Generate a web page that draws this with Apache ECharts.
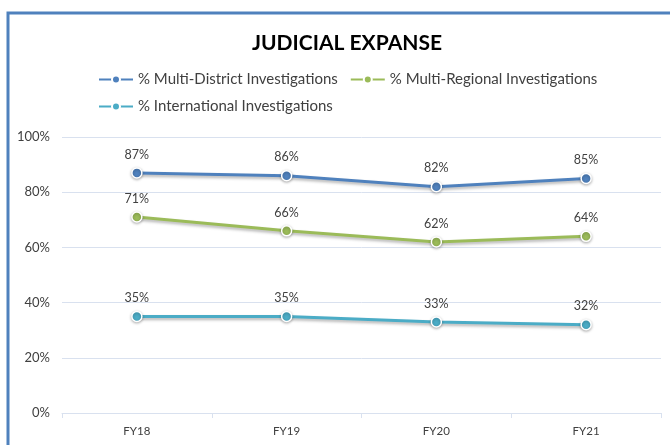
<!DOCTYPE html>
<html>
<head>
<meta charset="utf-8">
<script src="https://cdn.jsdelivr.net/npm/echarts@6/dist/echarts.min.js"></script>
<style>
  html, body { margin: 0; padding: 0; background: #fff; }
  #chart { width: 670px; height: 445px; }
</style>
</head>
<body>
<div id="chart"></div>
<script>
// data
const years = ['FY18', 'FY19', 'FY20', 'FY21'];
const multiDistrict = [87, 86, 82, 85];
const multiRegional = [71, 66, 62, 64];
const international = [35, 35, 33, 32];
const yTicks = [0, 20, 40, 60, 80, 100];

const font = 'Lato, "Open Sans", sans-serif';

function lineSeries(name, data, color) {
    return {
        name: name,
        type: 'line',
        data: data,
        symbol: 'circle',
        symbolSize: 10,
        lineStyle: {
            width: 3,
            color: color,
            shadowColor: 'rgba(0,0,0,0.3)',
            shadowBlur: 3,
            shadowOffsetY: 2
        },
        itemStyle: {
            color: color,
            borderColor: '#fff',
            borderWidth: 1.5,
            shadowColor: 'rgba(0,0,0,0.3)',
            shadowBlur: 3,
            shadowOffsetY: 1
        },
        label: {
            show: true,
            position: 'top',
            distance: 6,
            formatter: '{c}%',
            color: '#404040',
            fontSize: 12.5,
            fontFamily: font
        },
        emphasis: { disabled: true }
    };
}

const chart = echarts.init(document.getElementById('chart'));
chart.setOption({
    animation: false,
    color: ['#4f81bd', '#9bbb59', '#4bacc6'],
    graphic: [{
        type: 'rect',
        shape: { x: 8, y: 13, width: 700, height: 500 },
        style: { fill: 'none', stroke: '#4f81bd', lineWidth: 3 },
        silent: true
    }],
    title: {
        text: 'JUDICIAL EXPANSE',
        left: 342,
        textAlign: 'center',
        top: 28,
        textStyle: { fontSize: 21, fontWeight: 'bold', color: '#000', fontFamily: font }
    },
    legend: {
        left: 93,
        top: 67,
        width: 540,
        itemWidth: 34,
        itemHeight: 10,
        itemGap: 12,
        textStyle: { fontSize: 15, color: '#404040', fontFamily: font },
        data: ['% Multi-District Investigations', '% Multi-Regional Investigations', '% International Investigations']
    },
    grid: { left: 62, right: 9, top: 137, bottom: 32 },
    xAxis: {
        type: 'category',
        data: years,
        boundaryGap: true,
        axisLine: { lineStyle: { color: '#d9e1ef' } },
        axisTick: { show: true, length: 5, lineStyle: { color: '#d9e1ef' } },
        axisLabel: { color: '#404040', fontSize: 11.5, fontFamily: font, margin: 12 }
    },
    yAxis: {
        type: 'value',
        min: yTicks[0],
        max: yTicks[yTicks.length - 1],
        interval: 20,
        axisLine: { show: false },
        axisTick: { show: false },
        splitLine: { lineStyle: { color: '#d9e1ef' } },
        axisLabel: { formatter: '{value}%', color: '#404040', fontSize: 13, fontFamily: font, margin: 12 }
    },
    series: [
        lineSeries('% Multi-District Investigations', multiDistrict, '#4f81bd'),
        lineSeries('% Multi-Regional Investigations', multiRegional, '#9bbb59'),
        lineSeries('% International Investigations', international, '#4bacc6')
    ]
});
</script>
</body>
</html>
